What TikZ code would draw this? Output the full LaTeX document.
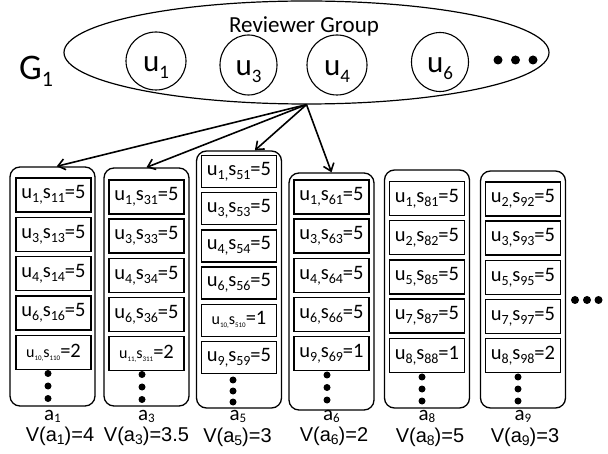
\documentclass[tikz,border=0pt]{standalone}
\usepackage{fontspec}
\setmainfont{Carlito}
\newfontfamily\arialfont{Liberation Sans}
\usetikzlibrary{shapes.geometric,arrows.meta}

% lowered subscript: drop, size, text
\newcommand{\dn}[3]{\raisebox{-#1}{\fontsize{#2}{#2}\selectfont #3}}
\newcommand{\rate}[3]{u\dn{4pt}{14}{#1,}s\dn{4pt}{14}{#2}=#3}
\newcommand{\ratetiny}[3]{{\fontsize{16}{16}\selectfont u\dn{3pt}{7}{#1,}s\dn{3pt}{7}{#2}}=#3}

\begin{document}
\begin{tikzpicture}[x=1pt, y=-1pt,
    user/.style={ellipse, draw, line width=1.1pt, inner sep=0pt,
      text height=26pt, text depth=4pt, font=\fontsize{31}{32}\selectfont},
    colbox/.style={rectangle, rounded corners=10pt, draw, line width=1.3pt,
      minimum width=85pt},
    entry/.style={rectangle, draw, line width=1.4pt, minimum width=75pt,
      minimum height=34pt, inner sep=0pt, font=\fontsize{20.5}{22}\selectfont},
    dot/.style={circle, fill, inner sep=0pt, minimum size=7pt},
    bigdot/.style={circle, fill, inner sep=0pt, minimum size=9pt},
    alabel/.style={anchor=base, font=\fontsize{21}{22}\selectfont},
    vlabel/.style={anchor=base, font=\arialfont\fontsize{20}{22}\selectfont},
    link/.style={line width=1.6pt, -{Straight Barb[length=7pt,width=11pt]}}
  ]
  \useasboundingbox (0,0) rectangle (608,454);

  % reviewer group
  \node[ellipse, draw, line width=1.2pt, inner sep=0pt,
    minimum width=485pt, minimum height=103pt] (grp) at (306.5,52.5) {};
  \node[anchor=base, font=\fontsize{23}{25}\selectfont] (grpname) at (304,33) {Reviewer Group};
  \node[anchor=base west, inner sep=0pt, font=\fontsize{36}{38}\selectfont] (g1) at (19,80) {G\dn{7pt}{22}{1}};
  \node[user, minimum width=60pt, minimum height=58pt] (u1) at (156,61) {u\dn{7pt}{19}{1}};
  \node[user, minimum width=57pt, minimum height=60pt] (u3) at (248.5,65) {u\dn{7pt}{19}{3}};
  \node[user, minimum width=60pt, minimum height=60pt] (u4) at (337,65) {u\dn{7pt}{19}{4}};
  \node[user, minimum width=57pt, minimum height=59pt] (u6) at (440,62) {u\dn{7pt}{19}{6}};
  \foreach \k/\x in {1/498,2/515.5,3/533}
    \node[bigdot] (gdot\k) at (\x,60) {};

  % items a1
  \node[colbox, minimum height=239pt] (a1) at (52.5,286.5) {};
  \foreach \txt [count=\i] in {\rate{1}{11}{5},\rate{3}{13}{5},\rate{4}{14}{5},\rate{6}{16}{5},\ratetiny{10}{110}{2}}
    \node[entry] (a1e\i) at (53.5,{195+39.4*(\i-1)}) {\txt};
  \foreach \k in {0,1,2}
    \node[dot] (a1d\k) at (48,{373.5+12.5*\k}) {};
  \node[alabel] (a1n) at (52.5,420) {a\dn{2pt}{13}{1}};
  \node[vlabel] (a1v) at (60,441) {V(a\dn{3pt}{14}{1})=4};

  % items a3
  \node[colbox, minimum height=238pt] (a3) at (146.5,287) {};
  \foreach \txt [count=\i] in {\rate{1}{31}{5},\rate{3}{33}{5},\rate{4}{34}{5},\rate{6}{36}{5},\ratetiny{11}{311}{2}}
    \node[entry] (a3e\i) at (146.5,{197+39.2*(\i-1)}) {\txt};
  \foreach \k in {0,1,2}
    \node[dot] (a3d\k) at (142,{374.5+12.5*\k}) {};
  \node[alabel] (a3n) at (146.5,420) {a\dn{2pt}{13}{3}};
  \node[vlabel] (a3v) at (146.5,441) {V(a\dn{3pt}{14}{3})=3.5};

  % items a5
  \node[colbox, minimum height=257pt] (a5) at (239,279.5) {};
  \foreach \txt [count=\i] in {\rate{1}{51}{5},\rate{3}{53}{5},\rate{4}{54}{5},\rate{6}{56}{5},\ratetiny{10}{510}{1},\rate{9}{59}{5}}
    \node[entry, minimum height=32pt] (a5e\i) at (239,{171.5+37.2*(\i-1)}) {\txt};
  \foreach \k in {0,1,2}
    \node[dot] (a5d\k) at (233,{380+11*\k}) {};
  \node[alabel] (a5n) at (238,420) {a\dn{2pt}{13}{5}};
  \node[vlabel] (a5v) at (237.5,442) {V(a\dn{3pt}{14}{5})=3};

  % items a6
  \node[colbox, minimum height=237pt] (a6) at (331.5,291.5) {};
  \foreach \txt [count=\i] in {\rate{1}{61}{5},\rate{3}{63}{5},\rate{4}{64}{5},\rate{6}{66}{5},\rate{9}{69}{1}}
    \node[entry] (a6e\i) at (331.5,{197+39.2*(\i-1)}) {\txt};
  \foreach \k in {0,1,2}
    \node[dot] (a6d\k) at (327,{375+12.5*\k}) {};
  \node[alabel] (a6n) at (331.5,420) {a\dn{2pt}{13}{6}};
  \node[vlabel] (a6v) at (334,441) {V(a\dn{3pt}{14}{6})=2};

  % items a8
  \node[colbox, minimum height=238pt] (a8) at (427,289) {};
  \foreach \txt [count=\i] in {\rate{1}{81}{5},\rate{2}{82}{5},\rate{5}{85}{5},\rate{7}{87}{5},\rate{8}{88}{1}}
    \node[entry] (a8e\i) at (427,{198.5+39.2*(\i-1)}) {\txt};
  \foreach \k in {0,1,2}
    \node[dot] (a8d\k) at (422,{377+12*\k}) {};
  \node[alabel] (a8n) at (427,420) {a\dn{2pt}{13}{8}};
  \node[vlabel] (a8v) at (430,442) {V(a\dn{3pt}{14}{8})=5};

  % items a9
  \node[colbox, minimum height=237pt] (a9) at (523,289.5) {};
  \foreach \txt [count=\i] in {\rate{2}{92}{5},\rate{3}{93}{5},\rate{5}{95}{5},\rate{7}{97}{5},\rate{8}{98}{2}}
    \node[entry] (a9e\i) at (523,{199+39.2*(\i-1)}) {\txt};
  \foreach \k in {0,1,2}
    \node[dot] (a9d\k) at (518,{377+12*\k}) {};
  \node[alabel] (a9n) at (523,420) {a\dn{2pt}{13}{9}};
  \node[vlabel] (a9v) at (525,442) {V(a\dn{3pt}{14}{9})=3};

  \foreach \k/\x in {1/575,2/587,3/598.5}
    \node[dot, minimum size=8pt] (more\k) at (\x,300) {};

  % group members rate items
  \draw[link] (grp.south) -- (a1.88);
  \draw[link] (grp.south) -- (a3.north);
  \draw[link] (grp.south) -- (a5.83);
  \draw[link] (grp.south) -- (a6.north);
\end{tikzpicture}
\end{document}
